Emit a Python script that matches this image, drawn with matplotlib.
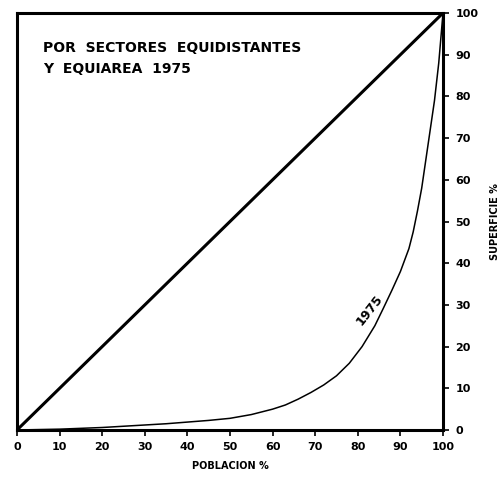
import matplotlib
matplotlib.use("Agg")
import matplotlib.pyplot as plt

poblacion = [0, 5, 10, 15, 20, 25, 30, 35, 40, 45, 50, 55, 60, 63, 66, 69, 72, 75,
             78, 81, 84, 86, 88, 90, 92, 93, 94, 95, 96, 97, 98, 99, 100]
superficie_1975 = [0, 0.1, 0.2, 0.4, 0.6, 0.9, 1.2, 1.5, 1.9, 2.3, 2.8, 3.7, 5, 6, 7.4, 9, 10.8, 13,
                   16, 20, 25, 29.2, 33.5, 38, 43.5, 47.5, 52.5, 58, 65, 72, 79, 88, 100]
igualdad_x = [0, 100]
igualdad_y = [0, 100]
ticks = list(range(0, 101, 10))

fig = plt.figure(figsize=(5.01, 4.80), dpi=100)
ax = fig.add_axes([17/501, 1-430/480, (443-17)/501, (430-13)/480])

ax.plot(igualdad_x, igualdad_y, color="black", lw=2.2, solid_capstyle="butt")
ax.plot(poblacion, superficie_1975, color="black", lw=1.1)

ax.set_xlim(0, 100)
ax.set_ylim(0, 100)
for s in ax.spines.values():
    s.set_linewidth(2.2)

ax.yaxis.tick_right()
ax.yaxis.set_label_position("right")
ax.set_xticks(ticks)
ax.set_yticks(ticks)
ax.tick_params(axis="both", direction="out", length=4, width=1.2, labelsize=8, pad=5)
for lab in ax.get_xticklabels() + ax.get_yticklabels():
    lab.set_fontweight("bold")

ax.set_xlabel("POBLACION %", fontsize=7, fontweight="bold", labelpad=6)
ax.set_ylabel("SUPERFICIE %", fontsize=7, fontweight="bold", labelpad=8)

ax.text(6.2, 91.5, "POR  SECTORES  EQUIDISTANTES", fontsize=10, fontweight="bold",
        ha="left", va="center")
ax.text(6.2, 86.5, "Y  EQUIAREA  1975", fontsize=10, fontweight="bold", ha="left", va="center")
ax.text(82.8, 28.8, "1975", fontsize=9, fontweight="bold", rotation=52, ha="center", va="center")

fig.savefig("out.png", dpi=100)
